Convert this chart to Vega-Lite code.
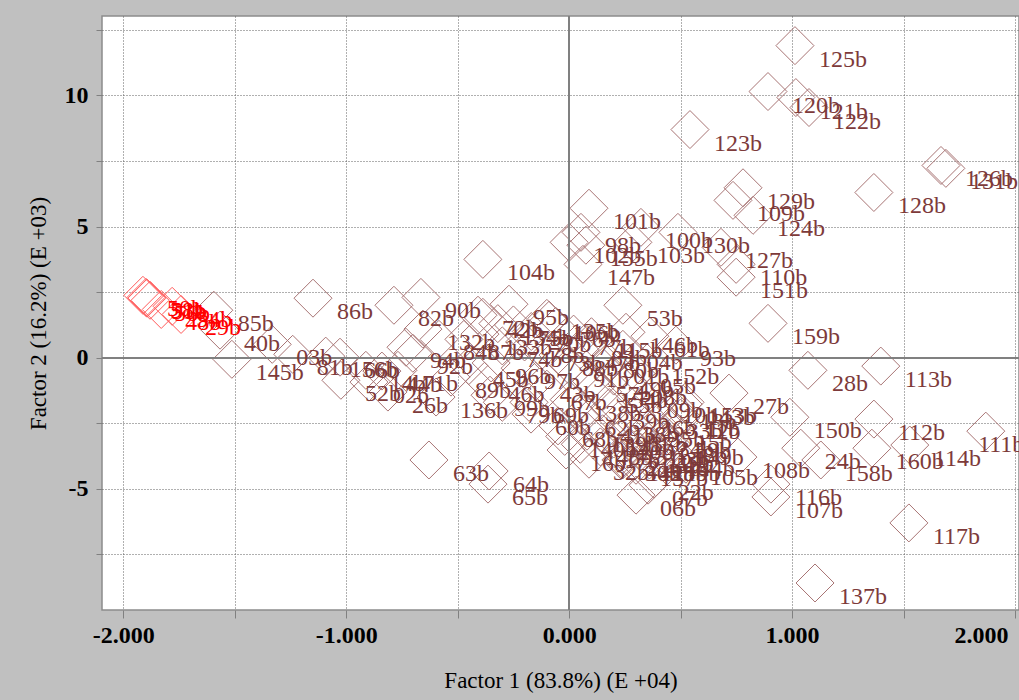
{
  "$schema": "https://vega.github.io/schema/vega-lite/v6.json",
  "autosize": {"type": "none"},
  "padding": {"left": 102, "top": 16, "right": 0, "bottom": 90},
  "width": 917,
  "height": 594,
  "background": "#c0c0c0",
  "config": {
    "view": {"fill": "white", "stroke": "#8c8c8c", "strokeWidth": 1.5},
    "font": "Liberation Serif",
    "axis": {
      "domain": false,
      "grid": true,
      "gridColor": "#606060",
      "gridDash": [1, 2],
      "gridWidth": 1,
      "tickColor": "#808080",
      "labelFont": "Liberation Serif",
      "labelFontSize": 24,
      "labelFontWeight": "bold",
      "labelColor": "black",
      "titleFont": "Liberation Serif",
      "titleFontSize": 23,
      "titleFontWeight": "normal",
      "titleColor": "black",
      "labelOverlap": false
    },
    "axisX": {
      "title": "Factor 1 (83.8%) (E +04)",
      "tickSize": 8,
      "labelPadding": 5,
      "titlePadding": 22,
      "labelFlush": 6,
      "labelFlushOffset": -7
    },
    "axisY": {
      "title": "Factor 2 (16.2%) (E +03)",
      "tickSize": 6,
      "labelPadding": 8,
      "titlePadding": 14,
      "labelFlush": false
    }
  },
  "data": {
    "values": [
      {"x": 1.013, "y": 11.90, "label": "125b", "group": "1"},
      {"x": 0.892, "y": 10.15, "label": "120b", "group": "1"},
      {"x": 1.017, "y": 9.92, "label": "121b", "group": "1"},
      {"x": 1.076, "y": 9.54, "label": "122b", "group": "1"},
      {"x": 0.542, "y": 8.70, "label": "123b", "group": "1"},
      {"x": 0.780, "y": 6.48, "label": "129b", "group": "1"},
      {"x": 0.735, "y": 6.00, "label": "109b", "group": "1"},
      {"x": 0.825, "y": 5.43, "label": "124b", "group": "1"},
      {"x": 1.367, "y": 6.30, "label": "128b", "group": "1"},
      {"x": 1.668, "y": 7.33, "label": "126b", "group": "1"},
      {"x": 1.690, "y": 7.22, "label": "131b", "group": "1"},
      {"x": 0.089, "y": 5.70, "label": "101b", "group": "1"},
      {"x": 0.053, "y": 4.78, "label": "98b", "group": "1"},
      {"x": 0.322, "y": 4.97, "label": "100b", "group": "1"},
      {"x": 0.488, "y": 4.78, "label": "130b", "group": "1"},
      {"x": 0.286, "y": 4.40, "label": "103b", "group": "1"},
      {"x": 0.000, "y": 4.40, "label": "102b", "group": "1"},
      {"x": 0.075, "y": 4.29, "label": "155b", "group": "1"},
      {"x": 0.062, "y": 3.56, "label": "147b", "group": "1"},
      {"x": 0.681, "y": 4.21, "label": "127b", "group": "1"},
      {"x": 0.749, "y": 3.56, "label": "110b", "group": "1"},
      {"x": 0.749, "y": 3.07, "label": "151b", "group": "1"},
      {"x": -0.387, "y": 3.75, "label": "104b", "group": "1"},
      {"x": 0.241, "y": 2.00, "label": "53b", "group": "1"},
      {"x": 0.892, "y": 1.31, "label": "159b", "group": "1"},
      {"x": -0.090, "y": 1.43, "label": "106b", "group": "1"},
      {"x": 0.255, "y": 0.97, "label": "146b", "group": "1"},
      {"x": 0.362, "y": 0.82, "label": "61b", "group": "1"},
      {"x": 0.479, "y": 0.48, "label": "93b", "group": "1"},
      {"x": 0.241, "y": 0.32, "label": "04b", "group": "1"},
      {"x": 0.134, "y": 0.02, "label": "80b", "group": "1"},
      {"x": 1.071, "y": -0.48, "label": "28b", "group": "1"},
      {"x": 1.398, "y": -0.32, "label": "113b", "group": "1"},
      {"x": 0.717, "y": -1.35, "label": "27b", "group": "1"},
      {"x": 0.990, "y": -2.27, "label": "150b", "group": "1"},
      {"x": 0.511, "y": -1.77, "label": "143b", "group": "1"},
      {"x": 1.367, "y": -2.34, "label": "112b", "group": "1"},
      {"x": 1.869, "y": -2.80, "label": "111b", "group": "1"},
      {"x": 1.358, "y": -3.45, "label": "160b", "group": "1"},
      {"x": 1.528, "y": -3.33, "label": "114b", "group": "1"},
      {"x": 1.039, "y": -3.45, "label": "24b", "group": "1"},
      {"x": 1.129, "y": -3.90, "label": "158b", "group": "1"},
      {"x": 0.757, "y": -3.79, "label": "108b", "group": "1"},
      {"x": 0.524, "y": -4.06, "label": "105b", "group": "1"},
      {"x": 0.457, "y": -3.03, "label": "59b", "group": "1"},
      {"x": 0.905, "y": -4.82, "label": "116b", "group": "1"},
      {"x": 0.905, "y": -5.31, "label": "107b", "group": "1"},
      {"x": 1.524, "y": -6.30, "label": "117b", "group": "1"},
      {"x": 1.103, "y": -8.59, "label": "137b", "group": "1"},
      {"x": 0.380, "y": -4.63, "label": "22b", "group": "1"},
      {"x": 0.354, "y": -4.86, "label": "07b", "group": "1"},
      {"x": 0.300, "y": -5.24, "label": "06b", "group": "1"},
      {"x": 0.232, "y": -3.90, "label": "30b", "group": "1"},
      {"x": 0.089, "y": -3.87, "label": "32b", "group": "1"},
      {"x": -0.014, "y": -3.52, "label": "16b", "group": "1"},
      {"x": -0.171, "y": -2.15, "label": "60b", "group": "1"},
      {"x": -1.149, "y": 2.27, "label": "86b", "group": "1"},
      {"x": -0.786, "y": 2.00, "label": "82b", "group": "1"},
      {"x": -0.665, "y": 2.30, "label": "90b", "group": "1"},
      {"x": -0.270, "y": 2.04, "label": "95b", "group": "1"},
      {"x": -0.409, "y": 1.62, "label": "72b", "group": "1"},
      {"x": -0.387, "y": 1.54, "label": "42b", "group": "1"},
      {"x": -1.594, "y": 1.81, "label": "85b", "group": "1"},
      {"x": -1.566, "y": 1.05, "label": "40b", "group": "1"},
      {"x": -1.332, "y": 0.51, "label": "03b", "group": "1"},
      {"x": -1.513, "y": -0.06, "label": "145b", "group": "1"},
      {"x": -1.240, "y": 0.13, "label": "81b", "group": "1"},
      {"x": -1.092, "y": 0.06, "label": "156b", "group": "1"},
      {"x": -1.028, "y": 0.02, "label": "66b", "group": "1"},
      {"x": -1.024, "y": -0.86, "label": "52b", "group": "1"},
      {"x": -0.898, "y": -0.93, "label": "02b", "group": "1"},
      {"x": -0.813, "y": -1.31, "label": "26b", "group": "1"},
      {"x": -0.912, "y": -0.48, "label": "14b", "group": "1"},
      {"x": -0.840, "y": -0.51, "label": "44b", "group": "1"},
      {"x": -0.768, "y": -0.48, "label": "71b", "group": "1"},
      {"x": -0.732, "y": 0.40, "label": "94b", "group": "1"},
      {"x": -0.701, "y": 0.17, "label": "92b", "group": "1"},
      {"x": -0.656, "y": 1.09, "label": "132b", "group": "1"},
      {"x": -0.584, "y": 0.70, "label": "84b", "group": "1"},
      {"x": -0.472, "y": 0.70, "label": "87b", "group": "1"},
      {"x": -0.530, "y": -0.74, "label": "89b", "group": "1"},
      {"x": -0.597, "y": -1.50, "label": "136b", "group": "1"},
      {"x": -0.629, "y": -3.90, "label": "63b", "group": "1"},
      {"x": -0.359, "y": -4.32, "label": "64b", "group": "1"},
      {"x": -0.364, "y": -4.82, "label": "65b", "group": "1"},
      {"x": -0.17, "y": 1.00, "label": "70b", "group": "1"},
      {"x": -0.06, "y": 1.20, "label": "76b", "group": "1"},
      {"x": -0.20, "y": 0.60, "label": "78b", "group": "1"},
      {"x": -0.12, "y": 0.30, "label": "73b", "group": "1"},
      {"x": -0.30, "y": 0.45, "label": "74b", "group": "1"},
      {"x": -0.25, "y": 1.25, "label": "75b", "group": "1"},
      {"x": 0.02, "y": 0.90, "label": "77b", "group": "1"},
      {"x": 0.08, "y": 0.50, "label": "83b", "group": "1"},
      {"x": -0.05, "y": 0.10, "label": "88b", "group": "1"},
      {"x": 0.00, "y": -0.30, "label": "91b", "group": "1"},
      {"x": -0.35, "y": -0.20, "label": "96b", "group": "1"},
      {"x": -0.22, "y": -0.40, "label": "97b", "group": "1"},
      {"x": -0.355, "y": -1.43, "label": "99b", "group": "1"},
      {"x": -0.30, "y": -1.70, "label": "79b", "group": "1"},
      {"x": -0.18, "y": -1.70, "label": "69b", "group": "1"},
      {"x": -0.10, "y": -1.20, "label": "67b", "group": "1"},
      {"x": -0.05, "y": -2.60, "label": "68b", "group": "1"},
      {"x": 0.05, "y": -2.20, "label": "62b", "group": "1"},
      {"x": 0.10, "y": -0.90, "label": "57b", "group": "1"},
      {"x": 0.15, "y": -1.30, "label": "55b", "group": "1"},
      {"x": 0.20, "y": -0.70, "label": "49b", "group": "1"},
      {"x": 0.05, "y": 0.30, "label": "47b", "group": "1"},
      {"x": -0.38, "y": -0.90, "label": "46b", "group": "1"},
      {"x": -0.45, "y": -0.30, "label": "45b", "group": "1"},
      {"x": -0.15, "y": -0.90, "label": "43b", "group": "1"},
      {"x": 0.12, "y": -2.50, "label": "41b", "group": "1"},
      {"x": 0.18, "y": -1.90, "label": "39b", "group": "1"},
      {"x": 0.22, "y": -2.40, "label": "38b", "group": "1"},
      {"x": 0.26, "y": -2.80, "label": "37b", "group": "1"},
      {"x": 0.30, "y": -2.20, "label": "36b", "group": "1"},
      {"x": 0.34, "y": -2.60, "label": "35b", "group": "1"},
      {"x": 0.38, "y": -3.00, "label": "34b", "group": "1"},
      {"x": 0.42, "y": -2.30, "label": "33b", "group": "1"},
      {"x": 0.28, "y": -3.30, "label": "31b", "group": "1"},
      {"x": 0.32, "y": -3.60, "label": "25b", "group": "1"},
      {"x": 0.36, "y": -3.40, "label": "23b", "group": "1"},
      {"x": 0.24, "y": -3.70, "label": "21b", "group": "1"},
      {"x": 0.20, "y": -3.10, "label": "20b", "group": "1"},
      {"x": 0.38, "y": -3.50, "label": "19b", "group": "1"},
      {"x": 0.44, "y": -3.20, "label": "18b", "group": "1"},
      {"x": 0.14, "y": -3.40, "label": "17b", "group": "1"},
      {"x": 0.46, "y": -2.70, "label": "15b", "group": "1"},
      {"x": 0.48, "y": -1.90, "label": "13b", "group": "1"},
      {"x": 0.50, "y": -2.30, "label": "12b", "group": "1"},
      {"x": 0.50, "y": -2.20, "label": "11b", "group": "1"},
      {"x": 0.40, "y": -1.70, "label": "10b", "group": "1"},
      {"x": 0.33, "y": -1.50, "label": "09b", "group": "1"},
      {"x": 0.26, "y": -1.00, "label": "08b", "group": "1"},
      {"x": 0.30, "y": -0.60, "label": "05b", "group": "1"},
      {"x": 0.18, "y": -0.20, "label": "01b", "group": "1"},
      {"x": 0.10, "y": 0.80, "label": "115b", "group": "1"},
      {"x": 0.30, "y": -3.90, "label": "118b", "group": "1"},
      {"x": 0.36, "y": -3.90, "label": "119b", "group": "1"},
      {"x": -0.40, "y": 0.90, "label": "133b", "group": "1"},
      {"x": -0.32, "y": 1.30, "label": "134b", "group": "1"},
      {"x": -0.10, "y": 1.50, "label": "135b", "group": "1"},
      {"x": 0.00, "y": -1.60, "label": "138b", "group": "1"},
      {"x": 0.08, "y": -2.80, "label": "139b", "group": "1"},
      {"x": -0.02, "y": -3.00, "label": "140b", "group": "1"},
      {"x": 0.15, "y": -2.90, "label": "141b", "group": "1"},
      {"x": 0.24, "y": -3.90, "label": "142b", "group": "1"},
      {"x": 0.42, "y": -3.70, "label": "144b", "group": "1"},
      {"x": 0.05, "y": -3.30, "label": "148b", "group": "1"},
      {"x": 0.46, "y": -3.30, "label": "149b", "group": "1"},
      {"x": 0.35, "y": -0.20, "label": "152b", "group": "1"},
      {"x": 0.52, "y": -1.70, "label": "153b", "group": "1"},
      {"x": 0.12, "y": -1.10, "label": "154b", "group": "1"},
      {"x": 0.30, "y": -4.10, "label": "157b", "group": "1"},
      {"x": -1.912, "y": 2.38, "label": "50b", "group": "2"},
      {"x": -1.894, "y": 2.27, "label": "51b", "group": "2"},
      {"x": -1.880, "y": 2.19, "label": "56b", "group": "2"},
      {"x": -1.898, "y": 2.30, "label": "58b", "group": "2"},
      {"x": -1.781, "y": 1.96, "label": "54b", "group": "2"},
      {"x": -1.830, "y": 1.84, "label": "48b", "group": "2"},
      {"x": -1.741, "y": 1.65, "label": "29b", "group": "2"}
    ]
  },
  "layer": [
    {
      "mark": {"type": "point", "shape": "diamond", "size": 1444, "filled": false, "strokeWidth": 1, "opacity": 1},
      "encoding": {
        "x": {
          "field": "x",
          "type": "quantitative",
          "title": "Factor 1 (83.8%) (E +04)",
          "scale": {"domain": [-2.0956, 2.018], "nice": false, "zero": false},
          "axis": {
            "values": [-2, -1.5, -1, -0.5, 0, 0.5, 1, 1.5, 2],
            "labelExpr": "datum.value % 1 == 0 ? replace(format(datum.value, '.3f'), '\u2212', '-') : ''"
          }
        },
        "y": {
          "field": "y",
          "type": "quantitative",
          "title": "Factor 2 (16.2%) (E +03)",
          "scale": {"domain": [-9.62, 13.03], "nice": false, "zero": false},
          "axis": {
            "values": [-7.5, -5, -2.5, 0, 2.5, 5, 7.5, 10, 12.5],
            "labelExpr": "datum.value % 5 == 0 ? replace(format(datum.value, 'd'), '\u2212', '-') : ''"
          }
        },
        "stroke": {
          "field": "group",
          "type": "nominal",
          "scale": {"domain": ["1", "2"], "range": ["#a87474", "#ff5a5a"]},
          "legend": null
        }
      }
    },
    {
      "mark": {"type": "rule", "color": "#808080", "strokeWidth": 1.5},
      "encoding": {
        "x": {
          "datum": 0,
          "type": "quantitative",
          "title": "Factor 1 (83.8%) (E +04)",
          "axis": {
            "values": [-2, -1.5, -1, -0.5, 0, 0.5, 1, 1.5, 2],
            "labelExpr": "datum.value % 1 == 0 ? replace(format(datum.value, '.3f'), '\u2212', '-') : ''"
          }
        }
      }
    },
    {
      "mark": {"type": "rule", "color": "#808080", "strokeWidth": 1.5},
      "encoding": {
        "y": {
          "datum": 0,
          "type": "quantitative",
          "title": "Factor 2 (16.2%) (E +03)",
          "axis": {
            "values": [-7.5, -5, -2.5, 0, 2.5, 5, 7.5, 10, 12.5],
            "labelExpr": "datum.value % 5 == 0 ? replace(format(datum.value, 'd'), '\u2212', '-') : ''"
          }
        }
      }
    },
    {
      "transform": [
        {"calculate": "min(datum.x, 1.727)", "as": "labelX"}
      ],
      "mark": {"type": "text", "align": "left", "baseline": "alphabetic", "dx": 24, "dy": 21, "fontSize": 24, "font": "Liberation Serif"},
      "encoding": {
        "x": {
          "field": "labelX",
          "type": "quantitative",
          "title": "Factor 1 (83.8%) (E +04)",
          "axis": {
            "values": [-2, -1.5, -1, -0.5, 0, 0.5, 1, 1.5, 2],
            "labelExpr": "datum.value % 1 == 0 ? replace(format(datum.value, '.3f'), '\u2212', '-') : ''"
          }
        },
        "y": {
          "field": "y",
          "type": "quantitative",
          "title": "Factor 2 (16.2%) (E +03)",
          "axis": {
            "values": [-7.5, -5, -2.5, 0, 2.5, 5, 7.5, 10, 12.5],
            "labelExpr": "datum.value % 5 == 0 ? replace(format(datum.value, 'd'), '\u2212', '-') : ''"
          }
        },
        "text": {"field": "label"},
        "fill": {
          "field": "group",
          "type": "nominal",
          "scale": {"domain": ["1", "2"], "range": ["#7d3a3a", "#ff0000"]},
          "legend": null
        }
      }
    }
  ]
}
